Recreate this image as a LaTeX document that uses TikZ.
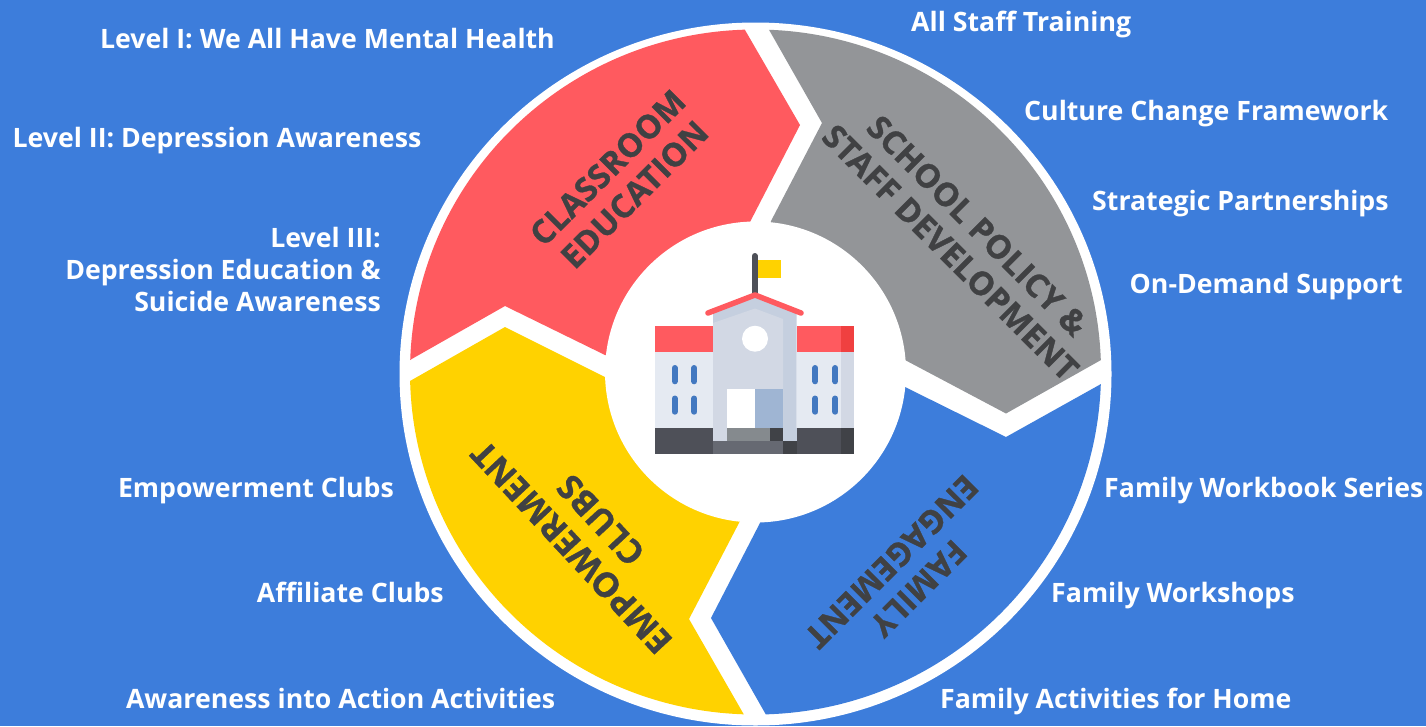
\documentclass[tikz,border=0pt]{standalone}
\usepackage{fontspec}
\setmainfont{Open Sans}
\newfontfamily\segfont[FakeBold=1.0,LetterSpace=1.0]{Open Sans Bold}
\definecolor{bgblue}{HTML}{3D7DDB}
\definecolor{segred}{HTML}{FF5A5F}
\definecolor{seggrey}{HTML}{939598}
\definecolor{segyellow}{HTML}{FFD200}
\definecolor{darktxt}{HTML}{404143}
\definecolor{wall}{HTML}{E5EAF2}
\definecolor{wallside}{HTML}{D2D8E4}
\definecolor{towerside}{HTML}{C5CFDF}
\definecolor{basedark}{HTML}{4E5058}
\definecolor{basedarker}{HTML}{404247}
\definecolor{roofdark}{HTML}{F04040}
\definecolor{doorblue}{HTML}{9FB5D3}
\definecolor{stepgrey}{HTML}{858A8E}
\definecolor{stepdark}{HTML}{666972}
\definecolor{winblue}{HTML}{4278C0}
\tikzset{
  lab/.style={text=white,font=\bfseries\fontsize{26.7}{31.5}\selectfont,inner sep=0pt,anchor=base west},
  labr/.style={text=white,font=\bfseries\fontsize{26.7}{31.5}\selectfont,inner sep=0pt,anchor=base east},
  seg/.style={text=darktxt,font=\segfont\fontsize{32.5}{38}\selectfont,inner sep=0pt,align=center},
  segb/.style={text=darktxt,font=\segfont\fontsize{34}{40}\selectfont,inner sep=0pt,align=center},
  win/.style={line width=6pt,line cap=round,winblue},
}
\begin{document}
\begin{tikzpicture}[x=1pt,y=-1pt]
\useasboundingbox (0,0) rectangle (1426,726);
\fill[bgblue] (0,0) rectangle (1426,726);
\begin{scope}
\clip (0,0) rectangle (1426,726);
\fill[white] (755.5,374) ellipse [x radius=356pt,y radius=351.5pt];
\begin{scope}
\clip (755.5,372) ellipse [x radius=345.5pt,y radius=342.5pt];
\fill[segred] (720,-14) -- (745,30) -- (800,125) -- (750,222) -- (755,372) -- (605,355) -- (505,306) -- (410,360) -- (300,422) -- (300,-14) -- cycle;
\fill[seggrey] (743,-16) -- (768,28) -- (822,123) -- (771,221) -- (755,372) -- (905,360) -- (1006,413.5) -- (1101,360) -- (1200,304) -- (1200,-16) -- cycle;
\fill[bgblue] (905,387) -- (1006,437) -- (1101,384) -- (1200,328) -- (1200,760) -- (792,760) -- (765,713) -- (711,618) -- (761,521) -- (755,372) -- cycle;
\fill[segyellow] (605,377) -- (505,327) -- (410,381) -- (300,443) -- (300,760) -- (770,760) -- (743,713) -- (689,619) -- (740,521) -- (755,372) -- cycle;
\end{scope}
\fill[white] (755.5,372) circle [radius=150.5pt];
\end{scope}
% school icon
\fill[segred] (655,325.7) rectangle (713,351.7);
\fill[wall] (655,351.7) rectangle (713,427.7);
\fill[basedark] (655,427.7) rectangle (713,454);
\fill[segred] (796.7,325.7) rectangle (841,351.7);
\fill[roofdark] (841,325.7) rectangle (854.3,351.7);
\fill[wall] (796.7,351.7) rectangle (841,427.7);
\fill[wallside] (841,351.7) rectangle (854.3,427.7);
\fill[basedark] (796.7,427.7) rectangle (841,454);
\fill[basedarker] (841,427.7) rectangle (854.3,454);
\fill[towerside] (713,313) -- (755,297) -- (796.7,313) -- (796.7,441) -- (713,441) -- cycle;
\fill[wallside] (713,323) -- (755,308.5) -- (783,319) -- (783,441) -- (713,441) -- cycle;
\fill[white] (726.7,389) rectangle (755,427.7);
\fill[doorblue] (755,389) rectangle (783,427.7);
\fill[stepgrey] (726.7,427.7) rectangle (770,441);
\fill[basedarker] (770,427.7) rectangle (783,441);
\fill[stepdark] (713,441) rectangle (783,454);
\fill[basedarker] (783,441) rectangle (796.7,454);
\fill[towerside] (783,427.7) rectangle (796.7,441);
\fill[white] (755,338.7) circle [radius=13pt];
\draw[basedark,line width=6pt,line cap=round] (754.7,256) -- (754.7,293);
\fill[segyellow] (758,260) rectangle (781,278);
\draw[segred,line width=5.5pt,line cap=round,line join=round] (708,313) -- (755,295) -- (801,313);
\foreach \wx in {674.7,694.3,815.3,835.3}{
  \draw[win] (\wx,368) -- (\wx,381.3);
  \draw[win] (\wx,398.5) -- (\wx,411.7);
}
% segment titles
\node[seg,rotate=45] (classroom) at (621,181) {CLASSROOM\\EDUCATION};
\node[seg,rotate=-45] (school) at (964,239) {SCHOOL POLICY \&\\STAFF DEVELOPMENT};
\node[seg,rotate=225] (family) at (905,575) {FAMILY\\ENGAGEMENT};
\node[segb,rotate=133] (empower) at (586,534) {EMPOWERMENT\\CLUBS};
% side labels
\node[labr] (l1) at (555,48) {Level I: We All Have Mental Health};
\node[labr] (l2) at (421.5,147) {Level II: Depression Awareness};
\node[labr] (l3a) at (381,247.5) {Level III:};
\node[labr] (l3b) at (381,279.5) {Depression Education \&};
\node[labr] (l3c) at (381,311) {Suicide Awareness};
\node[labr] (e1) at (394,497) {Empowerment Clubs};
\node[labr] (e2) at (444,602) {Affiliate Clubs};
\node[labr] (e3) at (555.5,708) {Awareness into Action Activities};
\node[lab] (s1) at (911,31) {All Staff Training};
\node[lab] (s2) at (1024,120) {Culture Change Framework};
\node[lab] (s3) at (1092,210) {Strategic Partnerships};
\node[lab] (s4) at (1129.5,293) {On-Demand Support};
\node[lab] (f1) at (1104,497) {Family Workbook Series};
\node[lab] (f2) at (1051,602) {Family Workshops};
\node[lab] (f3) at (940,708) {Family Activities for Home};
\end{tikzpicture}
\end{document}
